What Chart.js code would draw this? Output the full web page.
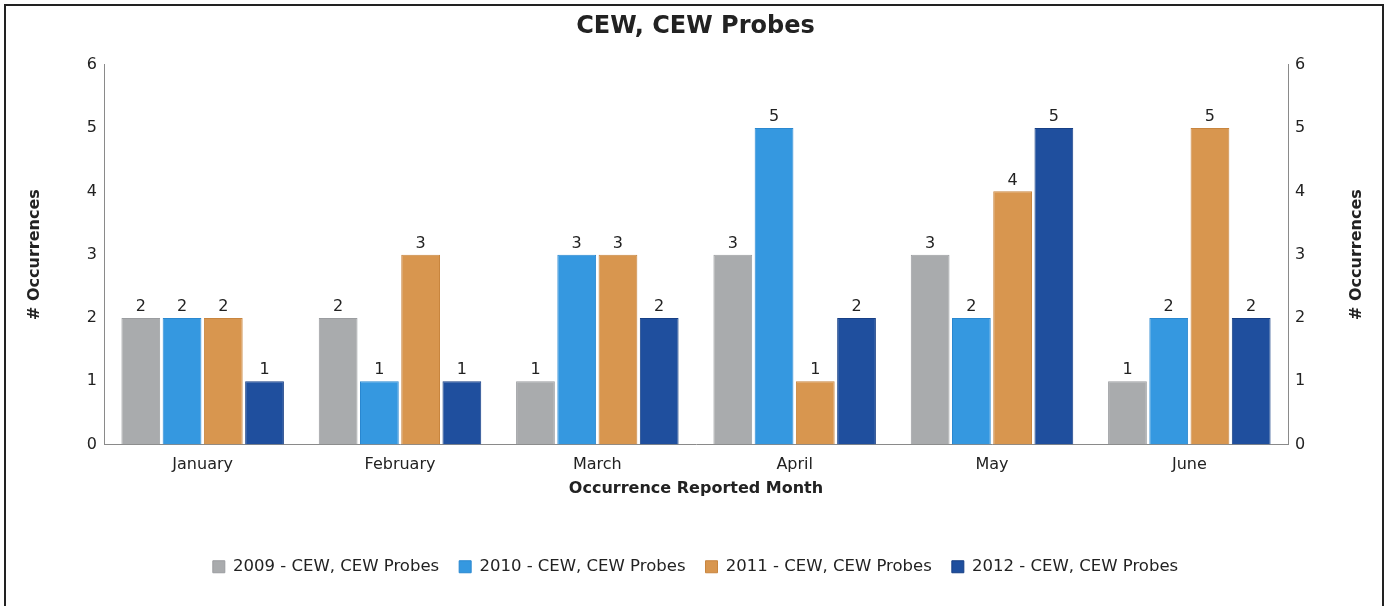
<!DOCTYPE html>
<html>
<head>
<meta charset="utf-8">
<script src="https://cdn.jsdelivr.net/npm/chart.js@4/dist/chart.umd.min.js"></script>
<style>
  html, body { margin: 0; padding: 0; background: #fff; }
  #wrap { position: relative; width: 1391px; height: 606px; }
  #frame {
    position: absolute; left: 4px; top: 4px; width: 1380px; height: 610px;
    border: 2px solid #222; box-sizing: border-box; pointer-events: none;
  }
  canvas { position: absolute; left: 0; top: 0; }
</style>
</head>
<body>
<div id="wrap">
  <canvas id="chart" width="1391" height="606"></canvas>
  <div id="frame"></div>
</div>
<script>
// Data
const months = ['January', 'February', 'March', 'April', 'May', 'June'];
const series2009 = [2, 2, 1, 3, 3, 1];
const series2010 = [2, 1, 3, 5, 2, 2];
const series2011 = [2, 3, 3, 1, 4, 5];
const series2012 = [1, 1, 2, 2, 5, 2];
const seriesLabels = [
  '2009 - CEW, CEW Probes',
  '2010 - CEW, CEW Probes',
  '2011 - CEW, CEW Probes',
  '2012 - CEW, CEW Probes'
];
const yTicks = [0, 1, 2, 3, 4, 5, 6];
const yTitle = '# Occurrences';

const COLORS = {
  fill: ['#a9abad', '#3598e0', '#d8964f', '#1f4f9e'],
  edge: ['#9b9da0', '#2a88d0', '#c8853f', '#173f85'],
  text: '#222222',
  axis: '#8a8a8a'
};

const FONT = "'DejaVu Sans', Verdana, sans-serif";

// Writes each bar's value just above it
const valueLabels = {
  id: 'valueLabels',
  afterDatasetsDraw(chart) {
    const ctx = chart.ctx;
    ctx.save();
    ctx.font = '16px ' + FONT;
    ctx.fillStyle = COLORS.text;
    ctx.textAlign = 'center';
    ctx.textBaseline = 'bottom';
    chart.data.datasets.forEach((ds, i) => {
      chart.getDatasetMeta(i).data.forEach((bar, j) => {
        ctx.fillText(String(ds.data[j]), bar.x, bar.y - 3);
      });
    });
    ctx.restore();
  }
};

// Right axis title reads bottom-to-top like the left one
const rightTitle = {
  id: 'rightTitle',
  afterDraw(chart) {
    const ctx = chart.ctx;
    const area = chart.chartArea;
    ctx.save();
    ctx.font = 'bold 16px ' + FONT;
    ctx.fillStyle = COLORS.text;
    ctx.textAlign = 'center';
    ctx.textBaseline = 'middle';
    ctx.translate(1357, (area.top + area.bottom) / 2);
    ctx.rotate(-Math.PI / 2);
    ctx.fillText(yTitle, 0, 0);
    ctx.restore();
  }
};

const allSeries = [series2009, series2010, series2011, series2012];

const datasets = allSeries.map((data, i) => ({
  label: seriesLabels[i],
  data,
  backgroundColor: COLORS.fill[i],
  borderColor: COLORS.edge[i],
  borderWidth: 1,
  barPercentage: 0.94,
  categoryPercentage: 0.836,
  yAxisID: 'y'
}));

const yAxisCommon = {
  min: 0,
  max: 6,
  grid: { display: false, drawTicks: false },
  border: { display: true, color: COLORS.axis, width: 1 },
  afterBuildTicks: (scale) => { scale.ticks = yTicks.map(v => ({ value: v })); },
  ticks: {
    padding: 7,
    color: COLORS.text,
    font: { family: FONT, size: 16 }
  }
};

new Chart(document.getElementById('chart'), {
  type: 'bar',
  data: { labels: months, datasets },
  options: {
    responsive: false,
    animation: false,
    layout: { padding: { left: 0, right: 0, top: 0, bottom: 21 } },
    plugins: {
      title: {
        display: true,
        text: 'CEW, CEW Probes',
        color: COLORS.text,
        font: { family: FONT, size: 24, weight: 'bold' },
        padding: { top: 12, bottom: 24 }
      },
      legend: {
        position: 'bottom',
        labels: {
          color: COLORS.text,
          font: { family: FONT, size: 16.5 },
          boxWidth: 12,
          boxHeight: 12,
          padding: 20
        }
      },
      tooltip: { enabled: false }
    },
    scales: {
      x: {
        grid: { display: false, drawTicks: false },
        border: { display: true, color: COLORS.axis, width: 1 },
        ticks: {
          padding: 11,
          color: COLORS.text,
          font: { family: FONT, size: 16 }
        },
        title: {
          display: true,
          text: 'Occurrence Reported Month',
          color: COLORS.text,
          font: { family: FONT, size: 16, weight: 'bold' },
          padding: { top: 0, bottom: 40 }
        },
        afterFit: (scale) => { scale.height = 94; }
      },
      y: {
        ...yAxisCommon,
        position: 'left',
        title: {
          display: true,
          text: yTitle,
          color: COLORS.text,
          font: { family: FONT, size: 16, weight: 'bold' },
          padding: { top: 25, bottom: 0 }
        },
        afterFit: (scale) => { scale.width = 104; }
      },
      y1: {
        ...yAxisCommon,
        position: 'right',
        afterFit: (scale) => { scale.width = 103; }
      }
    }
  },
  plugins: [valueLabels, rightTitle]
});
</script>
</body>
</html>
